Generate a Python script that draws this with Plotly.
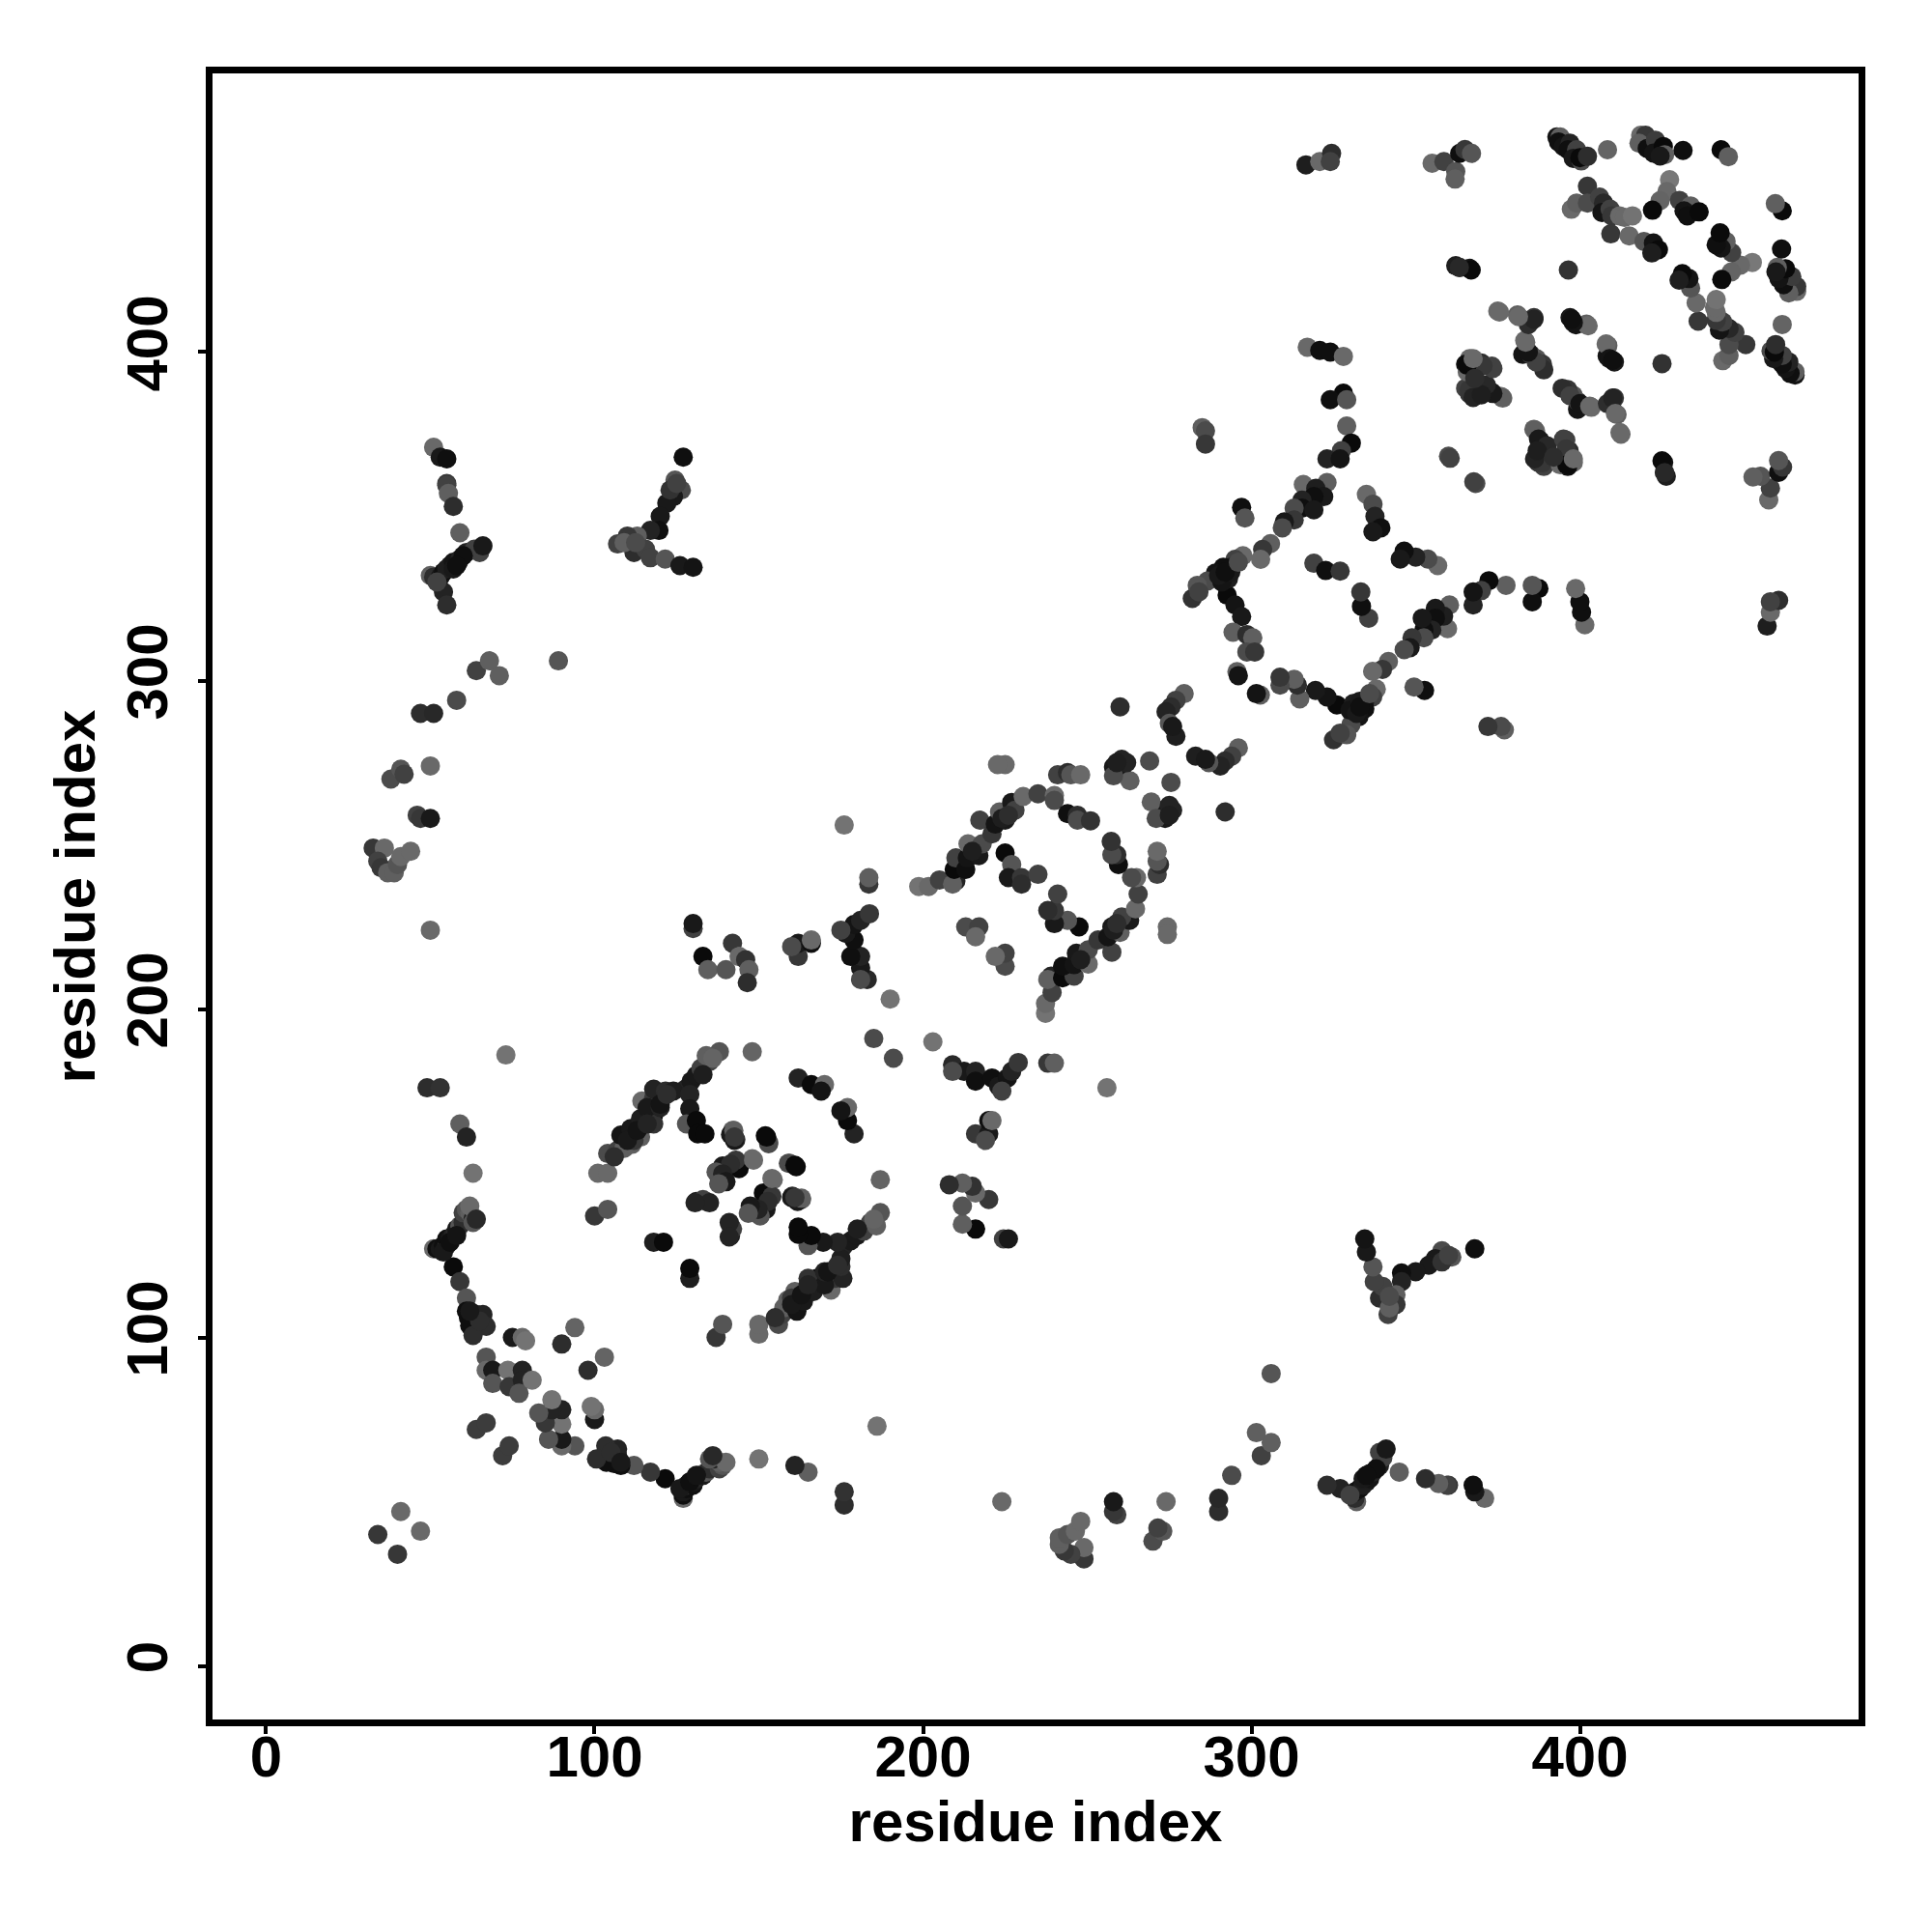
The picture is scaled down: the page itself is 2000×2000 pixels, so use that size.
import plotly.graph_objects as go

# contacts: (residue i, residue j, grey level); the map is symmetric
corner_a = [(34,40,50),(41,47,100),(49,176,40),(53,176,45),(73,186,110),(59,165,90),(61,161,30),(63,150,110),
 (100,137,50),(104,139,80),(118,129,25),(121,129,5),(148,187,95),(185,191,70),(190,203,110),(176,256,110),(50,224,100)]
arc_low = [(51,127,100),(52,127,10),(53,127,20),(54,128,10),(55,128,40),(55,130,10),(56,130,20),(57,131,30),(58,132,60),
 (58,133,20),(59,134,80),(60,135,40),(60,138,60),(61,139,80),(62,138,90),(63,136,30),(62,140,100),(63,135,80),(64,136,35),
 (57,121.5,5),(59,117,50),(61,112,80),(61,108,10),(61.6,106,10),(64,107,30),(66,107,30),(62,103.6,10),(67,103.4,40),
 (63,100.6,40),(75,100,20),(78,100,100),(79,99,110),(67,94,80),(67,90,100),(69,90,20),(69,86,80),(73.6,90,110),(74,85,50),
 (78,90,30),(78,87,30),(77,83,80),(81,87,110),(90,98,40),(94,103,95),(64,72,55),(67,74,55),(65,105,40),(62,108,20),
 (54,126,20),(56,129,10),(58,131,15)]
strand_b = [(101,150,100),(104,150,100),(104,156,70),(107,157,60),(109,157.6,90),(111.4,158.8,90),(114,161,90),(108,161.6,15),
 (111,163.6,20),(114,166.6,25),(118,167.8,10),(118,165,45),(114.4,172,100),(118,173,50),(118,175.6,30),(121.6,175,40),
 (127.6,175.6,30),(129.4,178,20),(131,179.8,20),(132.4,182,60),(135,184,60),(138,187,80),(134,185.8,90),(136,185,95),
 (124,175,25),(129,174,30),(133,180,25),(112,160,50),(106,155,40),(116,170,20),(120,170,30),
 (129,169.6,20),(128,165,80),(131,166,5),(131.4,162,5),(133.6,162,5),
 (110,160,20),(113,163,15),(116,165,30),(120,171,15),(122,174,40)]
center_x = [(142,163,90),(141.4,161.8,20),(143,160.2,40),(152,161.4,5),(153,159.4,100),(148,154.4,100),(144,151.4,5),(143,154,50),
 (139,152.2,20),(141.4,152.8,40),(137,150.4,80),(139,149.8,30),(140,147.4,20),(137.8,146.8,80),(159,153,70),(161,152.4,5),
 (154,148.4,100),(131,141.4,20),(134,141.4,100),(133,142,60),(160,142.6,20),(163,142.4,90),(161,142.6,50),
 (135,141,30),(130.6,141,30),(162,179,30),(166,177,5),(170,177,100),(169,175,15)]
block_c = [(130,224.5,60),(130,226,20),(133,216,5),(134.5,212,90),(140,212,80),(142,220,50),(144,216,100),(146,215,45),
 (147,212,90),(146.5,208,40),(162,216,50),(162,220,20),(160,219,70),(166,220,10),(166,221,100),(183,209,35),(181,212.5,20),
 (181,216,30),(181,209,70),(178,216,10),(179,221,10),(176.5,223,20),(179,225.7,15),(181,227,30),(183.7,229,50),(175,224,60),
 (183.5,238,50),(183.5,240,90)]
ring_d = [(198.7,237.3,110),(201.7,237.3,100),(205,239.3,60),(210,239,30),(209,238,90),(209.5,242.5,5),(210,246,60),(213,242.5,10),
 (213.5,246,15),(217,246.7,20),(213.7,250.3,100),(218,250.3,70),(217.3,257.5,60),(221,253.3,50),(222,256.3,15),(225,257.5,20),
 (223.3,260,90),(227,262.9,20),(228,260.5,60),(230.5,264.7,100),(235,265.5,60),(240,265,100),(240,263.5,70),
 (225,274.4,100),(222.7,274.4,100),(241,271.3,60),(244,272,40),(245,271.3,80),(248,271.3,100),(244,259.5,10),(247,259,40),
 (247,257.5,70),(251,257.3,45),(225,247.5,5),(227,244,80),(226,240,20),(230,240,50),(230,238,40),(235,241,60),
 (213,225,70),(217,225,60),(216,222,100),(224,258,25),(226,259,40),(215,248,25)]
strand_e = [(260,292,40),(279.5,296,90),(277,294,60),(275.5,292,40),(274,290.5,30),(275,287,80),(277,283,25),(260.5,276,30),
 (258,273.7,20),(260.5,273,20),(263,269.5,90),(258,271,70),(269,275.5,70),(262,275,30),(259,275,25),(276,286,20)]
ring_f = [(315.8,359.7,100),(323,360.3,90),(319.6,358.5,25),(322,356,20),(319,356,10),(315.4,354.9,30),(315.4,352.5,10),(319,352,20),
 (313,352.5,70),(313,348.9,50),(310,348.3,20),(309.4,346.5,70),(305.8,341.7,90),(303.4,339.9,50),(302.8,336.9,100),(297.4,338,100),
 (295,336.9,60),(293.8,334.5,20),(291.4,334.5,10),(289,332.7,15),(286.6,330.3,70),(292.6,326,5),(295,323,15),(297,319.5,20),
 (294.4,314.7,90),(298.6,314,40),(300.4,313,90),(298.6,308.7,70),(301,308.7,50),(295.6,302.7,90),(296,301.5,15),
 (293,331,25),(291,330,15),(293.7,333,20),(282,325,45),(283.5,329,80),(284,327,60),
 (319,335.7,60),(322.6,333.5,10),(327,333.3,50),(335,356.7,100),(337,353.7,70),(337.6,350,30),(339.4,346.5,10),(337,345.3,20),
 (297,352.7,10),(298,349.5,80),(285,377,90),(286,376,70),(286,372,50),(290,332,20),(292,333,10),(296,336,70)]
top_g = [(317,401.5,100),(320.8,400.5,10),(324,400,10),(328,398.7,100),(328,387.5,5),(324,385.5,10),(329,385.5,80),(329,377.5,90),
 (330.4,372.3,5),(327.4,370,60),(323,367.5,30),(327,367.5,15),(316.6,457,25),(320.8,458,100),(324.4,460.5,40),(324,458,60),
 (355,457.5,100),(358.6,458,60),(362.2,455,80),(362,452.7,90),(363.4,460.5,10),(365,461.7,50),(367,460.5,80),
 (362.2,426.3,25),(363.4,425.7,50),(366.4,425.5,15),(360,368.3,70),(367.7,360.5,60)]
top_h = [(375,412.5,100),(381,411.3,90),(384,409.5,30),(386,410.5,50),(383.2,403.5,100),(382.6,399.3,15),(385,399.3,60),(386.8,398,80),
 (388.6,396.3,50),(397,410.5,20),(398.8,408.3,15),(402,408.5,90),(408,402.5,100),(409,398,15),(410,397.5,10),(425,396.5,45),
 (366.4,398,100),(365.2,396.3,10),(370,396.7,40),(373.2,395.7,60),(365.2,389,60),(366.4,387.3,50),(369.4,390.3,70),(370.6,388.5,20),
 (373,387.9,10),(376,386.5,100),(394.6,389,40),(397,386.7,60),(400,384.3,15),(403,383.5,100),(408.4,384.3,40),(410,386,30),
 (410.8,381.3,100),(412.2,375.5,100),(386,376.5,90),(387.4,373.5,20),(390,371.5,35),(395,373.5,60),(395.8,370.5,50),(388.6,366.3,50),
 (386.2,367.5,30),(394,365.7,100),(396,365.7,5),(398,367.5,100),(425,366.9,5),(425.8,363.3,35),(387,370,25),(392,368,40)]
corner_i = [(393,465.5,15),(394,465.5,90),(393.5,464,10),(395,462.6,15),(397,463.6,30),(396.4,461.6,10),(399,461.6,60),(398,459,20),
 (400.4,458.2,70),(400,459.2,5),(402.3,459.6,40),(408.4,461.6,95),(418.5,466,100),(420,466,50),(418,463.6,90),(420.5,462,10),
 (423,464.5,55),(422.4,460.6,15),(425.4,462.6,5),(425.8,460.1,90),(424.4,459.7,20),(431.4,461.4,10),(443,461.6,5),(445.2,459.5,90)]
block_j = [(402.3,450.5,50),(397.4,443.5,100),(399,445.4,90),(402.3,445.4,70),(406,447.2,60),(407.2,445.4,35),(406.7,442.5,15),
 (409.2,443.5,60),(409.7,441.5,50),(412.1,441.5,100),(409.4,436,50),(413.6,441,100),(416,441.5,110),(415,435.4,100),(427.3,452.5,115),
 (426.5,448.9,100),(424.4,446.1,95),(422.1,443.2,5),(430.3,446.2,60),(433.7,444.5,90),(431.7,443,15),(432.7,441.5,10),(436.3,442.7,5),
 (419.5,433.7,80),(422.4,433.2,15),(423.9,431.2,5),(421.9,430.2,25)]
far_k = [(51,371,100),(53,368,20),(55,367.5,10),(55,360,50),(55,359.5,60),(55.5,357,90),(57,353,40),(59,345,90),(50,332,90),(51,331.5,40),
 (53,331.5,20),(54,327,30),(55,323,40),(54,333,10),(56,335,20),(58.5,336,20),(61,339,30),(63.4,340,60),(65,339,60),(66,341,20),
 (55,334,25),(57,336,15),(59,337,30),(60,338,10),(52,330,60),(127,368,10),(124.5,361,80),(126.4,358,70),(124,356,20),(122,354,20),
 (120,350,20),(119.6,345.7,10),(117,345.7,30),(113,344,90),(110,344,50),(107,341.6,60),(112,339,40),(115.5,340,60),(117,337.4,60),
 (121.5,337,80),(126,335,20),(130,334.5,15),(109,342,90),(112.5,342,70),(123,358,45),(125,360,60),(57,334,20),(58,335,10)]
far_l = [(32.6,249,50),(36,249,100),(34,245,60),(35,243,50),(37,241.5,90),(39,241.5,90),(40,244,80),(41,246.4,100),(44,248,100),
 (46,259,60),(47,258,50),(50,258,20),(50,274,100),(38,270,70),(41,273,80),(42,271.5,60),(47,290,40),(51,290,35),(58,294,70),
 (64,303,60),(68,306,90),(71,301.5,90),(89,306,80)]

all_groups = [corner_a, arc_low, strand_b, center_x, block_c, ring_d, strand_e, ring_f, top_g, top_h, corner_i, block_j, far_k, far_l]
tick_values = [0, 100, 200, 300, 400]
axis_label = "residue index"

xs, ys, cols = [], [], []
for group in all_groups:
    for i, j, g in group:
        c = f"rgb({g+5},{g+5},{g+5})"
        xs += [i, j]; ys += [j, i]; cols += [c, c]

fig = go.Figure(go.Scatter(x=xs, y=ys, mode="markers", marker=dict(size=20, color=cols, line=dict(width=0)),
                           hoverinfo="skip", showlegend=False))
bold = dict(family="Liberation Sans", size=60, color="black", weight=700)
axis = dict(range=[-16.32, 484.85], tickvals=tick_values, showgrid=False, zeroline=False, showline=True, mirror=True,
            linecolor="black", linewidth=7, ticks="outside", ticklen=8, tickwidth=4, tickcolor="black", tickfont=bold)
fig.update_layout(width=1984, height=1984, margin=dict(l=212, r=68, t=68, b=212, autoexpand=False),
                  paper_bgcolor="white", plot_bgcolor="white",
                  xaxis=dict(axis, ticklabelstandoff=-28, title=dict(text=axis_label, font=bold, standoff=12)),
                  yaxis=dict(axis, tickangle=-90, ticklabelstandoff=8, title=dict(text=axis_label, font=bold, standoff=4)))
fig.write_html("out.html")
